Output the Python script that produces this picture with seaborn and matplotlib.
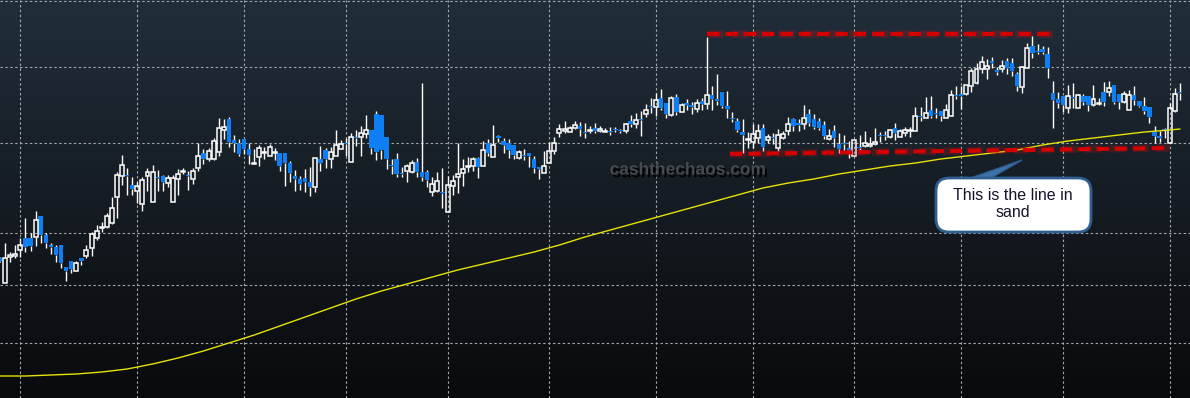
import numpy as np
import pandas as pd
import matplotlib
matplotlib.use("Agg")
import matplotlib.pyplot as plt
import seaborn as sns
from matplotlib.patches import FancyBboxPatch, Polygon
import matplotlib.patheffects as pe

# ---- data: chart units, y axis runs downward (smaller = higher price) ----
open_ = [258,283,257,256,250,238,238,237,216,235,245,247,245,267,261,271,258,256,248,238,
         228,227,223,197,176,174.5,185,191,204,176,202,176.5,176,183,202,179,172,174.5,179,168,
         153,159,159,152,130,119,140,143,139,149,163.5,157,153,156,152.5,153,153,163,176,179,
         178,182,187,159,150,159,156,149,142.5,162,136.5,137,134,130,114,115,137,164.5,159,172.5,
         171,172,162,172,172,192,191,191.5,212,186,177,173,166.5,166,158,166,143,157,136,141,
         143,145,158,154.5,153,159,167,173,163,151,133,131,132,128,126,131.5,131,128,131,132,
         130.5,128.5,129.5,131,121,124,118.5,114,105.5,107,98,103,115,97,112,103,105,109,101,104,
         95,99,92,106,117.5,121,132,139.5,142,138,128,140,136.5,148,138,131,119,123,124,114,
         119,121,125,139,131,144,142.5,148,156,146.5,146,146,144,134.5,134.5,137,128,137,133,130.5,
         131,115.5,118,110,112.5,111,118,116,94.5,94,94,86,83,69,69,61,70,69,61,63,
         74,87,68,46,50.5,49,54,93,99,96,108,96.5,108,96,96,105,103.5,92,92,85,
         94,102,110,95,101,106,107,131,136,128.5,143,111,91.5]
close = [261,258,255,254,245,247,246,220,235,243,247,255,263,271,269,263,261,250,234,231,
         227,216,208,175,165,175.5,189,186,180,172,172,177.5,182,178,178,174,171,175.5,171,156,
         159,151,141,128,127,142,143,154,149,155,162.5,148,152,147,151.5,166,163,173,179,184,
         182,187,158,163,159,152,145,144,143.5,137,137.5,133,130,148,152,150,159,165.5,174,173.5,
         166,163,172,177,180,184,181,192.5,185,181,174,169,165.5,159,167,150,153,145,138,145,
         150,155,152,155.5,156,168,169,166,151,143,129,129,128,125,129,132.5,130,131,129,131,
         131.5,129.5,130.5,124,124,120,119.5,110,106.5,100,108,114,98,112,105,105,107,103,104,95,
         99,101,106,109,118.5,130,135,138.5,134,131,147,137,137.5,135,134,124,126,125,118,123,
         127,128,136,136,138,149,143.5,152,140,147.5,143,144,142,135.5,135.5,130,133,131,130,129.5,
         116,116.5,113,116,113.5,116,110,95,95.5,96,85,71,69,62,66,63,72,66,68,71,
         86,67,48,53,51.5,52,68,100,103,105,96,97.5,95,102,105,99,102.5,102,88,102,
         102,94,95,100,106,111,117,136,138,129.5,108,94,92.5]
high = [257,243,252,245,238,218,233,211,216,233,243,245,245,267,261,261,258,245,232,225,
        222,213,197,172,155,168,177,182,177,168,165,170,175,175,175,169,168,171,168,143,
        149,148,138,118,119,117,135,139,139,143,149,145,147,144,148,153,153,161,170,176,
        169,167,158,146,148,147,130,140,138,133,130,126,115,130,111,115,137,159,153,167,
        164,160,158,83,170,177,172,168,176,175,143,159,157,157,157,141,139,125,135,138,
        139,145,150,149,153,156,167,151,142,137,124,121,126,121,122,123,126,123,126,128,
        127,127,129,123,115,113,111,104,98,93,89,103,96,94,103,99,102,99,98,37,
        86,74,92,91,112,118,119,132,124,124,124,134,133,129,131,117,118,119,105,109,
        114,118,121,129,125,133,135,141,140,135,131,137,128,132,131,129,123,129,127,127,
        107,107,97,96,108,111,104,90,86,86,85,68,63,56,59,57,67,60,58,58,
        72,66,43,36,44,46,47,81,92,96,85,83,94,94,96,85,98,82,81,85,
        94,91,90,86,101,97,107,126,131,128,103,88,83]
low = [262,283,262,258,257,252,251,246,243,248,254,262,268,281,273,271,265,258,256,240,
       232,228,224,218,185,195,195,203,211,191,202,191,191,187,202,195,174,190,184,171,
       164,161,160,156,139,147,152,156,154,164,164,166,159,156,160,171,186,182,191,190,
       192,196,192,171,168,168,156,149,156,162,146,156,138,154,160,159,169,174,177,177,
       182,173,177,181,187,196,192,208,212,195,193,186,172,171,178,166,156,157,142,153,
       158,159,159,160,167,173,179,173,163,154,137,133,132,129,136,138,133,133,132,132,
       135,132,133,133,127,128,136,117,113,116,110,118,116,115,112,110,114,112,110,109,
       110,105,108,118,122,132,153,148,148,143,151,143,144,151,139,135,131,131,129,126,
       129,130,139,140,147,153,153,158,156,152,147,147,145,142,140,138,140,137,136,137,
       131,121,118,118,118,121,118,116,99,109,95,92,84,73,79,68,75,72,74,76,
       91,93,68,58,54,54,78,128,108,112,113,108,108,105,111,106,105,106,96,104,
       109,103,110,105,107,114,123,143,142,138,143,112,100]

ma_idx = [0,5,10,15,20,25,30,35,40,45,50,55,60,65,70,75,80,85,90,95,100,105,110,115,
          120,125,130,135,140,145,150,155,160,165,170,175,180,185,190,195,200,205,210,215,
          220,225,230,232]
ma_val = [376,376,375,374,372,369,364,358,351,343,335,326,317,308,299,291,284,277,270,264,
          258,252,245,237,230,223,216,209,202,195,188,183,179,174,170,166,163,159,156,153,
          150,145,141,138,135,132,130,129]

res_x = [139.0, 207.0]
res_y = [34, 34]
sup_x = [143.5, 230.0]
sup_y = [154, 148]

grid_idx = [4, 27, 48, 68, 88, 108, 129, 148, 168, 189, 209, 230]
grid_lvl = [1, 67, 143, 233, 285, 343]

watermark = "cashthechaos.com"
callout = "This is the line in\nsand"

# ---- figure ----
W, H = 1190, 398
STEP = 5.086
sns.set_style("dark")
fig = plt.figure(figsize=(W / 100, H / 100), dpi=100)
ax = fig.add_axes([0, 0, 1, 1])
XMAX = W / STEP
ax.set_xlim(0, XMAX)
ax.set_ylim(H, 0)
ax.axis("off")

# background gradient
g = np.linspace(0, 1, 400)[:, None, None]
top = np.array([33, 46, 58]) / 255
bot = np.array([9, 10, 12]) / 255
img = top * (1 - g) + bot * g
img = np.repeat(img, 2, axis=1)
ax.imshow(img, extent=[0, XMAX, H, 0], aspect="auto", zorder=0, interpolation="bilinear")

# grid
for lv in grid_lvl:
    ax.axhline(lv, color="#a3a6a9", lw=0.8, ls=(0, (2.2, 2.2)), zorder=1)
for gi in grid_idx:
    ax.axvline(gi, color="#a3a6a9", lw=0.8, ls=(0, (2.2, 2.2)), zorder=1)

df = pd.DataFrame({"o": open_, "h": high, "l": low, "c": close})
df["x"] = np.arange(len(df))
df["top"] = df[["o", "c"]].min(axis=1)
df["bot"] = df[["o", "c"]].max(axis=1)
df["bull"] = df["c"] < df["o"]
df["hgt"] = (df["bot"] - df["top"]).clip(lower=1.3)

BW = 0.78
# wicks (split around body)
ax.vlines(df["x"], df["h"], df["top"], color="white", lw=1.0, zorder=3)
ax.vlines(df["x"], df["top"] + df["hgt"], df["l"], color="white", lw=1.0, zorder=3)
bl = df[~df["bull"]]
ax.bar(bl["x"], bl["hgt"], bottom=bl["top"], width=BW + 0.1, color="#0d7ff2", lw=0, zorder=4)
bu = df[df["bull"]]
ax.bar(bu["x"], bu["hgt"], bottom=bu["top"], width=BW, fill=False, edgecolor="white", lw=1.1, zorder=4)

# moving average
sns.lineplot(x=ma_idx, y=ma_val, ax=ax, color="#e6e20a", lw=1.0, zorder=5, legend=False)
ax.set_xlim(0, XMAX)
ax.set_ylim(H, 0)

# red dashed levels
for xs, ys in [(res_x, res_y), (sup_x, sup_y)]:
    ax.plot(xs, ys, color="#ff1010", lw=5.5, alpha=0.18, ls=(0, (2.2, 0.9)), zorder=6,
            dash_capstyle="butt")
    ax.plot(xs, ys, color="#d40000", lw=3.0, ls=(0, (3.0, 1.4)), zorder=7,
            dash_capstyle="butt")

# overlay in pixel coordinates for annotations
ax2 = fig.add_axes([0, 0, 1, 1])
ax2.set_xlim(0, W)
ax2.set_ylim(H, 0)
ax2.axis("off")

ax2.text(688, 170, watermark, ha="center", va="center", fontsize=12.5, color="#464b50",
         family="Liberation Sans", fontweight="bold", zorder=8,
         path_effects=[pe.withSimplePatchShadow(offset=(1.5, -2), shadow_rgbFace="black", alpha=0.9)])

ptr = Polygon([(962, 181), (986, 181), (1022, 160)], closed=True, fc="#3f72ab", ec="#2e5f90", lw=1.0, zorder=9)
ax2.add_patch(ptr)
box = FancyBboxPatch((936, 178), 155, 54, boxstyle="round,pad=0,rounding_size=13",
                     fc="white", ec="#2e5f90", lw=2.0, zorder=10)
ax2.add_patch(box)
ax2.text(1013, 204, callout, ha="center", va="center", fontsize=11.5, color="#14142a",
         family="Liberation Sans", linespacing=1.12, zorder=12)

fig.savefig("out.png", dpi=100)
